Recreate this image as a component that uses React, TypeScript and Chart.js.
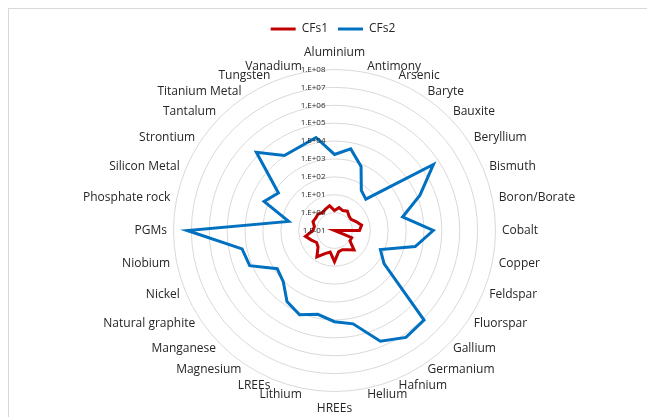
import { useEffect, useRef } from "react";
import { Chart, registerables } from "chart.js";

Chart.register(...registerables);

const categories = [
  "Aluminium", "Antimony", "Arsenic", "Baryte", "Bauxite", "Beryllium", "Bismuth",
  "Boron/Borate", "Cobalt", "Copper", "Feldspar", "Fluorspar", "Gallium", "Germanium",
  "Hafnium", "Helium", "HREEs", "Lithium", "LREEs", "Magnesium", "Manganese",
  "Natural graphite", "Nickel", "Niobium", "PGMs", "Phosphate rock", "Silicon Metal",
  "Strontium", "Tantalum", "Titanium Metal", "Tungsten", "Vanadium",
];

const seriesNames = ["CFs1", "CFs2"];

const cfs1 = [
  1.3, 2.0, 1.6, 2.0, 1.4, 1.3, 2.0, 3.5, 2.5, 0.1, 1.1, 1.1, 3.5, 2.0, 1.45, 1.6,
  5.5, 1.7, 2.5, 6.0, 2.0, 1.6, 2.5, 4.5, 1.6, 1.4, 2.0, 1.8, 2.0, 1.6, 2.0, 2.6,
];

const cfs2 = [
  1780, 4470, 759, 50, 30, 447000, 14800, 759, 33100, 3980, 60, 214, 1200000, 1550000,
  500000, 20900, 12600, 6030, 12600, 6030, 1120, 708, 13500, 18600, 17000000, 41, 1820,
  589, 151000, 11000, 11700, 20000,
];

const tickExponents = [-1, 0, 1, 2, 3, 4, 5, 6, 7, 8];

const colors = ["#C00000", "#0070C0"];

const FONT = '"Open Sans"';
const TEXT = "#262626";

function fmtTick(e: number): string {
  return "1.E" + (e < 0 ? "-" : "+") + String(Math.abs(e)).padStart(2, "0");
}

// Place the radial scale like the reference plot area.
const geometryPlugin = {
  id: "geometry",
  afterLayout(chart: any) {
    const s = chart.scales.r;
    s.xCenter = 325.5;
    s.yCenter = 221.5;
    s.drawingArea = 161;
  },
};

const tickPlugin = {
  id: "logTicks",
  afterDatasetsDraw(chart: any) {
    const s = chart.scales.r;
    const ctx = chart.ctx;
    ctx.save();
    ctx.font = "8px " + FONT;
    ctx.fillStyle = TEXT;
    ctx.textAlign = "right";
    ctx.textBaseline = "middle";
    tickExponents.forEach((e) => {
      const d = s.getDistanceFromCenterForValue(e);
      ctx.fillText(fmtTick(e), s.xCenter - 9, s.yCenter - d);
    });
    ctx.restore();
  },
};

const labelPlugin = {
  id: "categoryLabels",
  afterDraw(chart: any) {
    const s = chart.scales.r;
    const ctx = chart.ctx;
    ctx.save();
    ctx.font = "12px " + FONT;
    ctx.fillStyle = TEXT;
    ctx.textBaseline = "middle";
    const n = categories.length;
    categories.forEach((c, i) => {
      const deg = (i * 360) / n;
      if (deg === 0 || deg === 180) {
        const p = s.getPointPosition(i, s.drawingArea + 17);
        ctx.textAlign = "center";
        ctx.fillText(c, p.x, p.y);
      } else {
        const p = s.getPointPosition(i, s.drawingArea + 6.5);
        ctx.textAlign = deg < 180 ? "left" : "right";
        ctx.fillText(c, p.x, p.y);
      }
    });
    ctx.restore();
  },
};

export default function App() {
  const ref = useRef<HTMLCanvasElement | null>(null);

  useEffect(() => {
    if (!ref.current) return;
    const chart = new Chart(ref.current, {
      type: "radar",
      data: {
        labels: categories,
        datasets: [cfs1, cfs2].map((arr, i) => ({
          label: seriesNames[i],
          data: arr.map((v) => Math.log10(v)),
          borderColor: colors[i],
          backgroundColor: colors[i],
          borderWidth: 3,
          pointRadius: 0,
          pointHoverRadius: 0,
          fill: false,
          tension: 0,
        })),
      },
      options: {
        responsive: false,
        animation: false,
        layout: { padding: { top: 4, bottom: 2, left: 2, right: 0 } },
        plugins: {
          legend: {
            position: "top",
            labels: {
              boxWidth: 25,
              boxHeight: 3,
              color: TEXT,
              font: { family: FONT, size: 12 },
              padding: 10,
              generateLabels: (c: any) =>
                Chart.defaults.plugins.legend.labels
                  .generateLabels(c)
                  .map((it: any) => ({ ...it, lineWidth: 0, fillStyle: it.strokeStyle })),
            },
          },
          tooltip: { enabled: false },
        },
        scales: {
          r: {
            min: -1,
            max: 8,
            ticks: { stepSize: 1, display: false },
            grid: { color: "#d9d9d9", lineWidth: 1, circular: true },
            angleLines: { display: false },
            pointLabels: { display: false },
          },
        },
      },
      plugins: [geometryPlugin, tickPlugin, labelPlugin],
    });
    return () => chart.destroy();
  }, []);

  return (
    <div
      style={{
        width: 647,
        height: 409,
        borderTop: "1px solid #d9d9d9",
        borderLeft: "1px solid #d9d9d9",
        boxSizing: "border-box",
        overflow: "hidden",
      }}
    >
      <canvas ref={ref} width={646} height={408} style={{ display: "block" }} />
    </div>
  );
}
